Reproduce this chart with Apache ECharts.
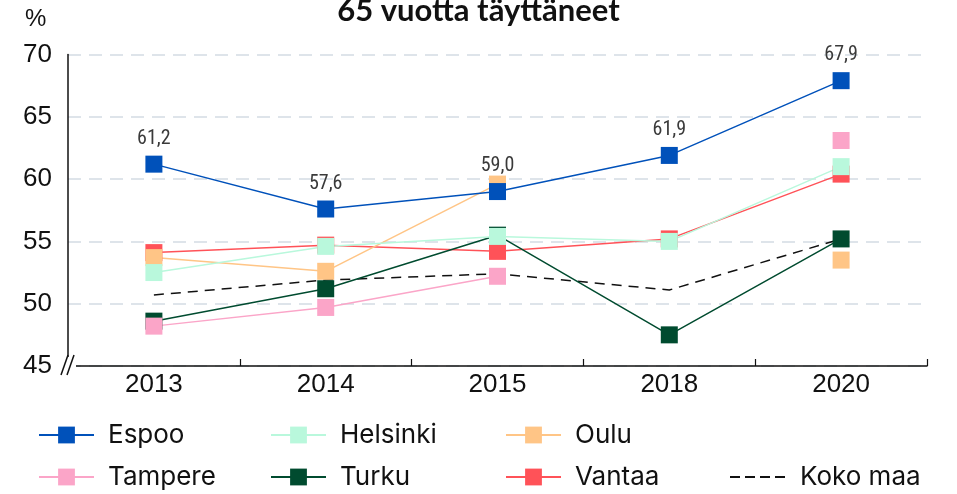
<!DOCTYPE html>
<html><head><meta charset="utf-8">
<script src="https://cdn.jsdelivr.net/npm/echarts@6/dist/echarts.min.js"></script>
<style>html,body{margin:0;padding:0;background:#fff}#c{width:957px;height:494px}</style>
</head><body><div id="c"></div>
<script>
const years = ['2013', '2014', '2015', '2018', '2020'];
const espoo = [61.2, 57.6, 59.0, 61.9, 67.9];
const helsinki = [52.5, 54.6, 55.4, 55.0, 61.0];
const oulu = [53.7, 52.6, 59.6, null, 53.5];
const tampere = [48.2, 49.7, 52.2, null, 63.1];
const turku = [48.6, 51.2, 55.5, 47.5, 55.2];
const vantaa = [54.1, 54.7, 54.2, 55.2, 60.4];
const kokoMaa = [50.7, 51.9, 52.4, 51.1, 55.2];
const yMin = 45, yMax = 70, yStep = 5;

const colors = {
  'Espoo': '#0051BA', 'Helsinki': '#B9F8DC', 'Oulu': '#FFC586',
  'Tampere': '#FBA5C8', 'Turku': '#004B2F', 'Vantaa': '#FF5258', 'Koko maa': '#111111'
};

function cityLine(name, data, withLabel) {
  return {
    name: name, type: 'line', data: data,
    symbol: 'rect', symbolSize: 17, showSymbol: true, connectNulls: false,
    color: colors[name],
    lineStyle: { width: 1.5, color: colors[name] },
    itemStyle: { color: colors[name] },
    emphasis: { disabled: true },
    label: withLabel ? {
      show: true, position: 'top', distance: 7,
      fontFamily: '"Liberation Sans Narrow", "Roboto Condensed", "Liberation Sans", sans-serif',
      fontSize: 20, color: '#3a3a3a',
      formatter: p => p.value.toFixed(1).replace('.', ',')
    } : { show: false }
  };
}

const legendPos = [
  ['Espoo', 38, 422], ['Helsinki', 270, 422], ['Oulu', 505, 422],
  ['Tampere', 38, 464], ['Turku', 270, 464], ['Vantaa', 505, 464], ['Koko maa', 730, 464]
];

const legendText = { fontFamily: 'Inter, "Noto Sans", sans-serif', fontSize: 26, color: '#111', padding: [0, 0, 0, 9] };
const legends = legendPos.map(([n, l, t]) => {
  if (n === 'Koko maa') {
    return {
      data: [{ name: n, icon: 'path://M0,0h10v2h-10z M15,0h10v2h-10z M30,0h10v2h-10z M45,0h10v2h-10z' }],
      left: l, top: t, itemWidth: 55, itemHeight: 2, padding: 0, selectedMode: false,
      itemStyle: { color: '#111' }, lineStyle: { width: 0 },
      textStyle: Object.assign({}, legendText, { padding: [0, 0, 0, 10] })
    };
  }
  return {
    data: [n], left: l, top: t,
    itemWidth: 55, itemHeight: 21, padding: 0, selectedMode: false,
    textStyle: legendText
  };
});

const chart = echarts.init(document.getElementById('c'), null, { renderer: 'canvas' });
chart.setOption({
  animation: false,
  backgroundColor: '#fff',
  title: [
    { text: '65 vuotta täyttäneet', left: 'center', top: -5, padding: 0,
      textStyle: { fontFamily: 'Lato, "Open Sans", sans-serif', fontWeight: 'bold', fontSize: 31, color: '#111' } },
    { text: '%', left: 25, top: 7, padding: 0,
      textStyle: { fontFamily: '"Liberation Sans", Arial, sans-serif', fontWeight: 'normal', fontSize: 24, color: '#111' } }
  ],
  legend: legends,
  grid: { left: 68, right: 30, top: 54.5, bottom: 128, containLabel: false },
  xAxis: {
    type: 'category', data: years, boundaryGap: true,
    axisLine: { lineStyle: { color: '#111', width: 1.5 } },
    axisTick: { show: true, inside: true, length: 7, lineStyle: { color: '#111', width: 1.2 } },
    axisLabel: { margin: 6, fontFamily: '"Liberation Sans", Arial, sans-serif', fontSize: 26, color: '#111' },
    splitLine: { show: false }
  },
  yAxis: {
    type: 'value', min: yMin, max: yMax, interval: yStep,
    axisLine: { show: true, lineStyle: { color: '#111', width: 1.5 } },
    axisTick: { show: false },
    axisLabel: { margin: 16, fontFamily: '"Liberation Sans", Arial, sans-serif', fontSize: 26, color: '#111' },
    splitLine: { show: true, lineStyle: { color: '#D3DBE4', width: 1.5, type: [13, 8] } }
  },
  series: [
    {
      name: 'Koko maa', type: 'line', data: kokoMaa, symbol: 'none', showSymbol: false,
      color: colors['Koko maa'],
      lineStyle: { width: 1.5, color: '#111', type: [10, 7] },
      itemStyle: { color: '#111' },
      emphasis: { disabled: true }
    },
    cityLine('Vantaa', vantaa, false),
    cityLine('Turku', turku, false),
    cityLine('Tampere', tampere, false),
    cityLine('Oulu', oulu, false),
    cityLine('Helsinki', helsinki, false),
    cityLine('Espoo', espoo, true)
  ],
  graphic: [
    { type: 'rect', shape: { x: 60, y: 357, width: 16, height: 14 }, style: { fill: '#fff' }, z: 100 },
    { type: 'line', shape: { x1: 61, y1: 375, x2: 68, y2: 355 }, style: { stroke: '#111', lineWidth: 1.5 }, z: 101 },
    { type: 'line', shape: { x1: 67, y1: 375, x2: 74, y2: 355 }, style: { stroke: '#111', lineWidth: 1.5 }, z: 101 }
  ]
});
</script>
</body></html>
